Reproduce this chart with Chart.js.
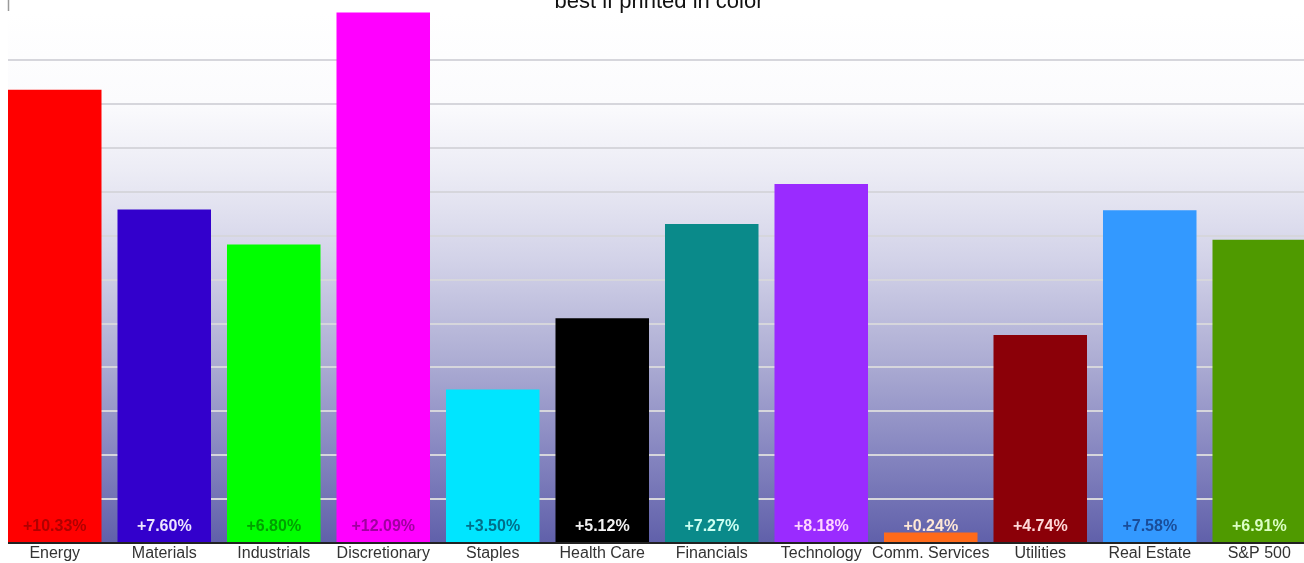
<!DOCTYPE html>
<html lang="en">
<head>
  <meta charset="UTF-8" />
  <title>Sector returns</title>
  <script src="https://cdn.jsdelivr.net/npm/chart.js"></script>
  <style>
    html, body {
      margin: 0;
      padding: 0;
      background: #fff;
      overflow: hidden;
      width: 1304px;
      height: 563px;
    }
    #wrap {
      width: 1314px;
      height: 563px;
    }
  </style>
</head>
<body>
  <div id="wrap">
    <canvas id="sectorChart" width="1314" height="563"></canvas>
  </div>

  <script>
    const sectors = ['Energy', 'Materials', 'Industrials', 'Discretionary', 'Staples', 'Health Care',
      'Financials', 'Technology', 'Comm. Services', 'Utilities', 'Real Estate', 'S&P 500'];
    const returns = [10.33, 7.60, 6.80, 12.09, 3.50, 5.12, 7.27, 8.18, 0.24, 4.74, 7.58, 6.91];
    const barColors = ['#ff0000', '#3300cc', '#00ff00', '#ff00ff', '#00e5ff', '#000000',
      '#0a8a8a', '#9a2bff', '#ff6a1a', '#8b0008', '#3399ff', '#4f9a00'];
    const labelColors = ['#b00000', '#ece4ff', '#00a000', '#a000a0', '#006f8a', '#f2f2f2',
      '#ccfff2', '#ffd4ff', '#ffe8d6', '#ffd8d8', '#1a4d99', '#dcffc4'];
    const subtitle = 'best if printed in color';

    // gradient backdrop + the little axis stub at the top
    const backdrop = {
      id: 'backdrop',
      beforeDraw(chart) {
        const { ctx, chartArea: a } = chart;
        const g = ctx.createLinearGradient(0, a.top, 0, a.bottom);
        g.addColorStop(0, '#ffffff');
        g.addColorStop(0.17, '#fbfbfd');
        g.addColorStop(0.3, '#ececf5');
        g.addColorStop(0.47, '#d2d2e8');
        g.addColorStop(0.65, '#aeaed4');
        g.addColorStop(0.83, '#8686c0');
        g.addColorStop(1, '#6060aa');
        ctx.save();
        ctx.fillStyle = g;
        ctx.fillRect(8, a.top, a.right - 8, a.bottom - a.top);
        ctx.restore();
      },
      afterDraw(chart) {
        const { ctx, chartArea: a } = chart;
        ctx.save();
        ctx.fillStyle = '#ffffff';
        ctx.fillRect(0, a.top - 1, 8, a.bottom - a.top + 3);
        ctx.strokeStyle = '#9a9a9a';
        ctx.lineWidth = 1.5;
        ctx.beginPath();
        ctx.moveTo(8.5, 0);
        ctx.lineTo(8.5, a.top - 1);
        ctx.stroke();
        ctx.fillStyle = '#111';
        ctx.font = '22px Arial, "Liberation Sans", sans-serif';
        ctx.textAlign = 'center';
        ctx.textBaseline = 'alphabetic';
        ctx.fillText(subtitle, 659, 8);
        ctx.restore();
      }
    };

    // percentage labels at the foot of each bar
    const valueLabels = {
      id: 'valueLabels',
      afterDatasetsDraw(chart) {
        const { ctx } = chart;
        const meta = chart.getDatasetMeta(0);
        const y0 = chart.scales.y.getPixelForValue(0);
        ctx.save();
        ctx.font = 'bold 16px Arial, "Liberation Sans", sans-serif';
        ctx.textAlign = 'center';
        ctx.textBaseline = 'middle';
        meta.data.forEach((bar, i) => {
          ctx.fillStyle = labelColors[i];
          ctx.fillText('+' + returns[i].toFixed(2) + '%', bar.x, y0 - 16);
        });
        ctx.restore();
      }
    };

    new Chart(document.getElementById('sectorChart').getContext('2d'), {
      type: 'bar',
      data: {
        labels: sectors,
        datasets: [{
          data: returns,
          backgroundColor: barColors,
          borderWidth: 0,
          categoryPercentage: 1,
          barPercentage: 0.854
        }]
      },
      options: {
        responsive: false,
        animation: false,
        layout: { padding: { top: 12, left: 0, right: 0, bottom: 0 } },
        plugins: {
          legend: { display: false },
          tooltip: { enabled: false },
          title: { display: false }
        },
        scales: {
          x: {
            grid: { display: false, drawTicks: false },
            border: { display: true, color: '#222', width: 2 },
            ticks: {
              color: '#333',
              font: { family: 'Arial, "Liberation Sans", sans-serif', size: 16 },
              padding: 1,
              maxRotation: 0,
              autoSkip: false
            },
            afterFit(scale) { scale.height = 20; }
          },
          y: {
            min: 0,
            max: 12.1,
            ticks: { display: false, stepSize: 1 },
            border: { display: false },
            grid: {
              drawTicks: false,
              lineWidth: 2,
              color: ctx => (ctx.tick.value === 0 || ctx.tick.value > 11.5) ? 'rgba(0,0,0,0)' : '#d6d6dc'
            },
            afterFit(scale) { scale.width = 0; }
          }
        }
      },
      plugins: [backdrop, valueLabels]
    });
  </script>
</body>
</html>
